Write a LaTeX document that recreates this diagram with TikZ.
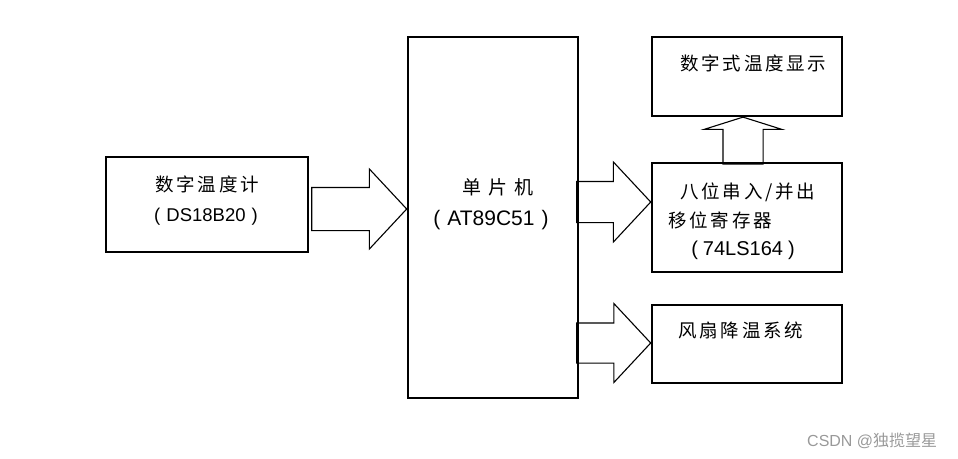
\documentclass[tikz,border=0pt]{standalone}
\usepackage{fontspec}
\setmainfont{Liberation Sans}
\newfontfamily\cjk[LetterSpace=15]{Noto Sans CJK SC}
\newfontfamily\cjkwide[LetterSpace=36]{Noto Sans CJK SC}
\newfontfamily\cjkmark{Noto Sans CJK SC}
\usetikzlibrary{shapes.arrows,calc}

\begin{document}
\begin{tikzpicture}[x=1pt,y=-1pt,
    blk/.style={rectangle, draw, line width=1.1pt, inner sep=0pt},
    lbl/.style={inner sep=0pt, font=\fontsize{18.5}{20}\selectfont},
    fat/.style={single arrow, draw, line width=1.1pt, inner sep=0pt, text depth=0pt, text width=0pt, single arrow tip angle=94}
]
\useasboundingbox (0,0) rectangle (958,458);

% Blocks
\node[blk, minimum width=202pt, minimum height=95pt] (sensor) at (207,204.5) {};
\node[blk, minimum width=170pt, minimum height=361pt] (mcu) at (493,217.5) {};
\node[blk, minimum width=190pt, minimum height=79pt] (display) at (747,76.5) {};
\node[blk, minimum width=190pt, minimum height=109pt] (shiftreg) at (747,217.5) {};
\node[blk, minimum width=190pt, minimum height=78pt] (fan) at (747,344) {};

% Labels
\node[lbl] (sensortxt) at (207,184) {\cjk 数字温度计};
\node[lbl] (sensorpart) at (206,217) {(\hspace{6pt}DS18B20\hspace{6pt})};
\node[lbl, font=\fontsize{19}{20}\selectfont] (mcutxt) at (498,187) {\cjkwide 单片机};
\node[lbl, font=\fontsize{21}{22}\selectfont] (mcupart) at (491,220) {(\hspace{7pt}AT89C51\hspace{7pt})};
\node[lbl, anchor=west] (displaytxt) at (680,63) {\cjk 数字式温度显示};
\node[lbl, anchor=west] (shifttxt1) at (680,192) {\cjk 八位串入/并出};
\node[lbl, anchor=west] (shifttxt2) at (668,220) {\cjk 移位寄存器};
\node[lbl, font=\fontsize{20}{22}\selectfont] (shiftpart) at (743,250) {(\hspace{5pt}74LS164\hspace{5pt})};
\node[lbl, anchor=west] (fantxt) at (678,330) {\cjk 风扇降温系统};

% Block arrows
\node[fat, text height=42pt, single arrow head extend=18.5pt, minimum height=95pt, anchor=tip] (sensor2mcu) at ($(mcu.west)+(0,-8.5)$) {};
\node[fat, text height=40pt, single arrow head extend=19.5pt, minimum height=74pt, anchor=tip] (mcu2shift) at ($(shiftreg.west)+(0,-15.5)$) {};
\node[fat, text height=39pt, single arrow head extend=19.5pt, minimum height=74pt, anchor=tip] (mcu2fan) at ($(fan.west)+(0,-1)$) {};
\node[fat, text height=39pt, single arrow head extend=19pt, minimum height=47pt, single arrow tip angle=145, rotate=90, anchor=tip] (shift2display) at ($(display.south)+(-4,0)$) {};

% Watermark
\node[inner sep=0pt, anchor=west, text=black!40, font=\fontsize{16}{18}\selectfont] (mark) at (807,441) {CSDN @{\cjkmark 独揽望星}};

\end{tikzpicture}
\end{document}
